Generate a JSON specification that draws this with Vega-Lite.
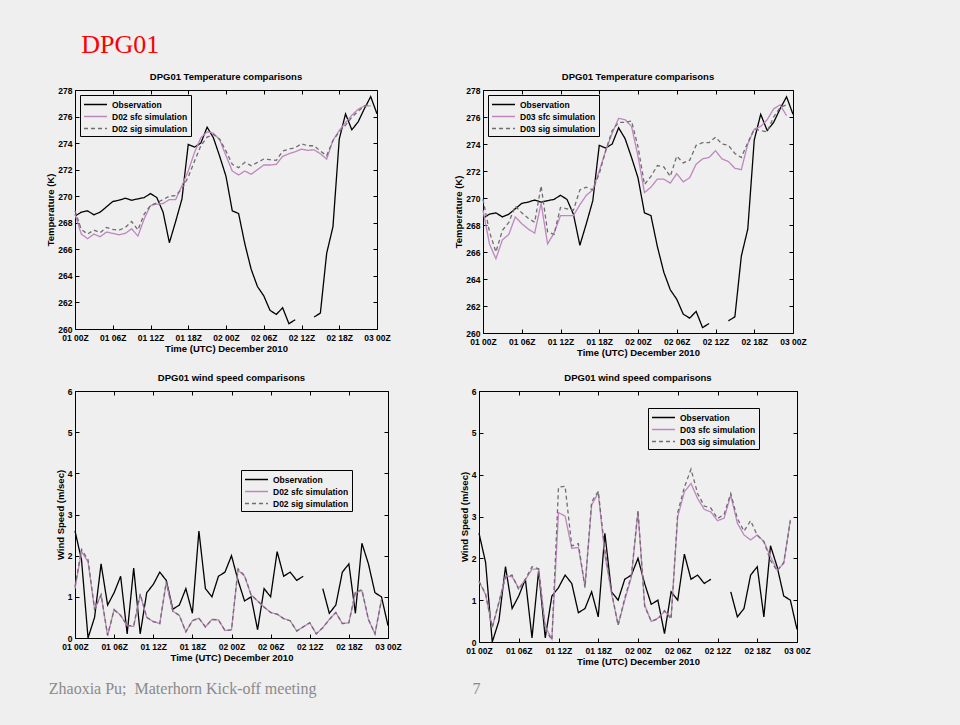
{
  "$schema": "https://vega.github.io/schema/vega-lite/v6.json",
  "padding": {"left": 45, "top": 32, "right": 155, "bottom": 30},
  "title": {"text": "DPG01", "anchor": "start", "font": "Liberation Serif", "fontSize": 26, "fontWeight": "normal", "color": "#ff0000", "dx": 36, "offset": 13},
  "datasets": {
    "temp": [
      {"h":0,"obs":268.5,"s2":268.65,"g2":268.9,"s3":269.1,"g3":269.9},
      {"h":1,"obs":268.8,"s2":267.15,"g2":267.5,"s3":266.6,"g3":267.5},
      {"h":2,"obs":268.9,"s2":266.8,"g2":267.15,"s3":265.5,"g3":266.0},
      {"h":3,"obs":268.6,"s2":267.15,"g2":267.45,"s3":266.9,"g3":267.6},
      {"h":4,"obs":268.8,"s2":266.95,"g2":267.25,"s3":267.3,"g3":268.2},
      {"h":5,"obs":269.2,"s2":267.3,"g2":267.65,"s3":268.6,"g3":269.4},
      {"h":6,"obs":269.6,"s2":267.2,"g2":267.5,"s3":268.1,"g3":268.9},
      {"h":7,"obs":269.7,"s2":267.1,"g2":267.45,"s3":267.7,"g3":268.5},
      {"h":8,"obs":269.85,"s2":267.2,"g2":267.65,"s3":267.4,"g3":268.2},
      {"h":9,"obs":269.7,"s2":267.55,"g2":268.1,"s3":269.6,"g3":270.9},
      {"h":10,"obs":269.8,"s2":267.0,"g2":267.45,"s3":266.6,"g3":267.5},
      {"h":11,"obs":269.9,"s2":268.3,"g2":268.65,"s3":267.4,"g3":267.3},
      {"h":12,"obs":270.2,"s2":269.3,"g2":269.3,"s3":268.7,"g3":269.3},
      {"h":13,"obs":269.9,"s2":269.4,"g2":269.5,"s3":268.7,"g3":269.2},
      {"h":14,"obs":268.8,"s2":269.45,"g2":269.75,"s3":268.7,"g3":269.1},
      {"h":15,"obs":266.5,"s2":269.75,"g2":270.0,"s3":269.5,"g3":270.6},
      {"h":16,"obs":268.1,"s2":269.75,"g2":270.05,"s3":270.2,"g3":270.8},
      {"h":17,"obs":269.8,"s2":270.8,"g2":270.55,"s3":270.6,"g3":270.6},
      {"h":18,"obs":273.9,"s2":271.9,"g2":271.45,"s3":272.0,"g3":271.8},
      {"h":19,"obs":273.7,"s2":273.3,"g2":272.65,"s3":273.5,"g3":273.5},
      {"h":20,"obs":274.0,"s2":274.4,"g2":273.8,"s3":274.8,"g3":275.0},
      {"h":21,"obs":275.2,"s2":274.85,"g2":274.45,"s3":275.9,"g3":275.6},
      {"h":22,"obs":274.4,"s2":274.75,"g2":274.65,"s3":275.8,"g3":275.6},
      {"h":23,"obs":273.0,"s2":274.25,"g2":274.3,"s3":275.3,"g3":275.7},
      {"h":24,"obs":271.5,"s2":273.05,"g2":273.4,"s3":273.1,"g3":273.8},
      {"h":25,"obs":268.9,"s2":271.9,"g2":272.4,"s3":270.4,"g3":271.0},
      {"h":26,"obs":268.7,"s2":271.6,"g2":272.15,"s3":270.8,"g3":271.6},
      {"h":27,"obs":266.4,"s2":271.9,"g2":272.55,"s3":271.4,"g3":272.4},
      {"h":28,"obs":264.5,"s2":271.65,"g2":272.3,"s3":271.4,"g3":272.3},
      {"h":29,"obs":263.2,"s2":272.0,"g2":272.55,"s3":271.1,"g3":271.6},
      {"h":30,"obs":262.5,"s2":272.35,"g2":272.8,"s3":271.8,"g3":273.1},
      {"h":31,"obs":261.4,"s2":272.35,"g2":272.75,"s3":271.2,"g3":272.6},
      {"h":32,"obs":261.1,"s2":272.4,"g2":272.7,"s3":271.5,"g3":272.8},
      {"h":33,"obs":261.6,"s2":273.0,"g2":273.4,"s3":272.5,"g3":273.9},
      {"h":34,"obs":260.4,"s2":273.2,"g2":273.55,"s3":272.9,"g3":274.1},
      {"h":35,"obs":260.7,"s2":273.35,"g2":273.65,"s3":273.0,"g3":274.1},
      {"h":36,"obs":null,"s2":273.55,"g2":273.95,"s3":273.5,"g3":274.5},
      {"h":37,"obs":null,"s2":273.45,"g2":273.8,"s3":272.9,"g3":274.0},
      {"h":38,"obs":260.9,"s2":273.5,"g2":273.8,"s3":272.7,"g3":273.9},
      {"h":39,"obs":261.2,"s2":273.2,"g2":273.4,"s3":272.2,"g3":273.3},
      {"h":40,"obs":265.7,"s2":272.8,"g2":273.05,"s3":272.1,"g3":273.0},
      {"h":41,"obs":267.7,"s2":274.2,"g2":274.2,"s3":274.0,"g3":274.1},
      {"h":42,"obs":274.3,"s2":274.95,"g2":274.85,"s3":275.1,"g3":275.1},
      {"h":43,"obs":276.2,"s2":275.55,"g2":275.35,"s3":275.3,"g3":275.0},
      {"h":44,"obs":275.0,"s2":276.1,"g2":275.95,"s3":275.8,"g3":274.9},
      {"h":45,"obs":275.6,"s2":276.55,"g2":276.4,"s3":276.6,"g3":276.0},
      {"h":46,"obs":276.6,"s2":276.8,"g2":276.8,"s3":276.9,"g3":276.7},
      {"h":47,"obs":277.5,"s2":276.8,"g2":276.95,"s3":276.1,"g3":276.9},
      {"h":48,"obs":276.2,"s2":null,"g2":null,"s3":null,"g3":null}
    ],
    "wind": [
      {"h":0,"obs":2.6,"s2":1.2,"g2":1.25,"s3":1.45,"g3":1.45},
      {"h":1,"obs":1.9,"s2":2.1,"g2":2.15,"s3":1.13,"g3":1.15},
      {"h":2,"obs":0.0,"s2":1.85,"g2":1.9,"s3":0.35,"g3":0.35},
      {"h":3,"obs":0.5,"s2":0.7,"g2":0.7,"s3":0.93,"g3":0.95},
      {"h":4,"obs":1.8,"s2":1.05,"g2":1.05,"s3":1.58,"g3":1.55},
      {"h":5,"obs":0.8,"s2":0.05,"g2":0.07,"s3":1.56,"g3":1.6},
      {"h":6,"obs":1.1,"s2":0.7,"g2":0.68,"s3":1.29,"g3":1.25},
      {"h":7,"obs":1.5,"s2":0.55,"g2":0.55,"s3":1.49,"g3":1.5},
      {"h":8,"obs":0.1,"s2":0.3,"g2":0.3,"s3":1.74,"g3":1.8},
      {"h":9,"obs":1.7,"s2":0.28,"g2":0.3,"s3":1.74,"g3":1.75},
      {"h":10,"obs":0.1,"s2":1.05,"g2":1.07,"s3":0.37,"g3":0.3},
      {"h":11,"obs":1.1,"s2":0.5,"g2":0.5,"s3":0.07,"g3":0.05},
      {"h":12,"obs":1.3,"s2":0.4,"g2":0.4,"s3":3.09,"g3":3.7},
      {"h":13,"obs":1.6,"s2":0.35,"g2":0.35,"s3":3.01,"g3":3.72},
      {"h":14,"obs":1.4,"s2":1.35,"g2":1.37,"s3":2.24,"g3":2.3},
      {"h":15,"obs":0.7,"s2":0.65,"g2":0.65,"s3":2.26,"g3":2.35},
      {"h":16,"obs":0.8,"s2":0.55,"g2":0.55,"s3":1.33,"g3":1.3},
      {"h":17,"obs":1.2,"s2":0.15,"g2":0.15,"s3":3.27,"g3":3.35},
      {"h":18,"obs":0.6,"s2":0.42,"g2":0.42,"s3":3.57,"g3":3.6},
      {"h":19,"obs":2.6,"s2":0.48,"g2":0.48,"s3":2.08,"g3":2.2},
      {"h":20,"obs":1.2,"s2":0.27,"g2":0.27,"s3":1.17,"g3":1.2},
      {"h":21,"obs":1.0,"s2":0.45,"g2":0.45,"s3":0.41,"g3":0.4},
      {"h":22,"obs":1.5,"s2":0.44,"g2":0.44,"s3":1.0,"g3":1.05},
      {"h":23,"obs":1.6,"s2":0.18,"g2":0.18,"s3":1.55,"g3":1.6},
      {"h":24,"obs":2.0,"s2":0.2,"g2":0.2,"s3":3.11,"g3":3.15},
      {"h":25,"obs":1.4,"s2":1.65,"g2":1.68,"s3":0.89,"g3":0.85},
      {"h":26,"obs":0.9,"s2":1.5,"g2":1.52,"s3":0.49,"g3":0.5},
      {"h":27,"obs":1.0,"s2":1.05,"g2":1.05,"s3":0.57,"g3":0.55},
      {"h":28,"obs":0.2,"s2":0.9,"g2":0.9,"s3":0.73,"g3":0.75},
      {"h":29,"obs":1.2,"s2":0.75,"g2":0.75,"s3":0.6,"g3":0.55},
      {"h":30,"obs":1.0,"s2":0.62,"g2":0.62,"s3":3.0,"g3":3.1},
      {"h":31,"obs":2.1,"s2":0.58,"g2":0.58,"s3":3.59,"g3":3.7},
      {"h":32,"obs":1.5,"s2":0.47,"g2":0.47,"s3":3.79,"g3":4.13},
      {"h":33,"obs":1.6,"s2":0.42,"g2":0.42,"s3":3.43,"g3":3.55},
      {"h":34,"obs":1.4,"s2":0.17,"g2":0.17,"s3":3.17,"g3":3.25},
      {"h":35,"obs":1.5,"s2":0.27,"g2":0.27,"s3":3.11,"g3":3.2},
      {"h":36,"obs":null,"s2":0.37,"g2":0.37,"s3":2.9,"g3":2.95},
      {"h":37,"obs":null,"s2":0.1,"g2":0.1,"s3":2.96,"g3":3.05},
      {"h":38,"obs":1.2,"s2":0.25,"g2":0.25,"s3":3.51,"g3":3.55},
      {"h":39,"obs":0.6,"s2":0.45,"g2":0.45,"s3":2.84,"g3":2.95},
      {"h":40,"obs":0.8,"s2":0.62,"g2":0.62,"s3":2.56,"g3":2.65},
      {"h":41,"obs":1.6,"s2":0.35,"g2":0.35,"s3":2.44,"g3":2.9},
      {"h":42,"obs":1.8,"s2":0.37,"g2":0.37,"s3":2.56,"g3":2.55},
      {"h":43,"obs":0.6,"s2":1.1,"g2":1.12,"s3":2.4,"g3":2.4},
      {"h":44,"obs":2.3,"s2":1.15,"g2":1.17,"s3":2.04,"g3":1.95},
      {"h":45,"obs":1.8,"s2":0.45,"g2":0.45,"s3":1.72,"g3":1.7},
      {"h":46,"obs":1.1,"s2":0.1,"g2":0.1,"s3":1.88,"g3":1.9},
      {"h":47,"obs":1.0,"s2":0.93,"g2":0.93,"s3":2.92,"g3":2.9},
      {"h":48,"obs":0.3,"s2":null,"g2":null,"s3":null,"g3":null}
    ]
  },
  "vconcat": [
    {
      "hconcat": [
        {
          "width": 302, "height": 239,
          "title": "DPG01 Temperature comparisons",
          "data": {"name": "temp"},
          "transform": [{"fold": ["obs", "s2", "g2"], "as": ["k", "v"]}],
          "layer": [
            {
              "mark": {"type": "line", "strokeWidth": 1.3, "invalid": "break-paths-show-domains"},
              "encoding": {
                "x": {"field": "h", "type": "quantitative", "scale": {"domain": [0, 48], "nice": false}, "axis": {"values": [0,6,12,18,24,30,36,42,48], "labelExpr": "(datum.value < 24 ? '01' : datum.value < 48 ? '02' : '03') + ' ' + (datum.value % 24 < 10 ? '0' : '') + (datum.value % 24) + 'Z'", "title": "Time (UTC) December 2010"}},
                "y": {"field": "v", "type": "quantitative", "scale": {"domain": [260, 278], "nice": false, "zero": false}, "axis": {"values": [260,262,264,266,268,270,272,274,276,278], "title": "Temperature (K)"}},
                "color": {"field": "k", "type": "nominal", "scale": {"domain": ["obs", "s2", "g2"], "range": ["#000000", "#bf86c0", "#6e6e6e"]}, "legend": {"title": null, "orient": "top-left", "offset": 5, "labelExpr": "datum.label == 'obs' ? 'Observation' : datum.label == 's2' ? 'D02 sfc simulation' : 'D02 sig simulation'"}},
                "strokeDash": {"field": "k", "type": "nominal", "scale": {"domain": ["obs", "s2", "g2"], "range": [[1, 0], [1, 0], [4, 3]]}, "legend": {"title": null, "orient": "top-left", "offset": 5, "labelExpr": "datum.label == 'obs' ? 'Observation' : datum.label == 's2' ? 'D02 sfc simulation' : 'D02 sig simulation'"}}
              }
            },
            {
              "mark": {"type": "point", "opacity": 0},
              "encoding": {
                "x": {"field": "h", "type": "quantitative", "scale": {"domain": [0, 48], "nice": false}, "axis": {"orient": "top", "values": [0,6,12,18,24,30,36,42,48], "labels": false, "title": null}},
                "y": {"field": "v", "type": "quantitative", "scale": {"domain": [260, 278], "nice": false, "zero": false}, "axis": {"orient": "right", "values": [260,262,264,266,268,270,272,274,276,278], "labels": false, "title": null}}
              }
            }
          ],
          "resolve": {"axis": {"x": "independent", "y": "independent"}}
        },
        {
          "width": 310, "height": 243,
          "title": "DPG01 Temperature comparisons",
          "data": {"name": "temp"},
          "transform": [{"fold": ["obs", "s3", "g3"], "as": ["k", "v"]}],
          "layer": [
            {
              "mark": {"type": "line", "strokeWidth": 1.3, "invalid": "break-paths-show-domains"},
              "encoding": {
                "x": {"field": "h", "type": "quantitative", "scale": {"domain": [0, 48], "nice": false}, "axis": {"values": [0,6,12,18,24,30,36,42,48], "labelExpr": "(datum.value < 24 ? '01' : datum.value < 48 ? '02' : '03') + ' ' + (datum.value % 24 < 10 ? '0' : '') + (datum.value % 24) + 'Z'", "title": "Time (UTC) December 2010"}},
                "y": {"field": "v", "type": "quantitative", "scale": {"domain": [260, 278], "nice": false, "zero": false}, "axis": {"values": [260,262,264,266,268,270,272,274,276,278], "title": "Temperature (K)"}},
                "color": {"field": "k", "type": "nominal", "scale": {"domain": ["obs", "s3", "g3"], "range": ["#000000", "#bf86c0", "#6e6e6e"]}, "legend": {"title": null, "orient": "top-left", "offset": 5, "labelExpr": "datum.label == 'obs' ? 'Observation' : datum.label == 's3' ? 'D03 sfc simulation' : 'D03 sig simulation'"}},
                "strokeDash": {"field": "k", "type": "nominal", "scale": {"domain": ["obs", "s3", "g3"], "range": [[1, 0], [1, 0], [4, 3]]}, "legend": {"title": null, "orient": "top-left", "offset": 5, "labelExpr": "datum.label == 'obs' ? 'Observation' : datum.label == 's3' ? 'D03 sfc simulation' : 'D03 sig simulation'"}}
              }
            },
            {
              "mark": {"type": "point", "opacity": 0},
              "encoding": {
                "x": {"field": "h", "type": "quantitative", "scale": {"domain": [0, 48], "nice": false}, "axis": {"orient": "top", "values": [0,6,12,18,24,30,36,42,48], "labels": false, "title": null}},
                "y": {"field": "v", "type": "quantitative", "scale": {"domain": [260, 278], "nice": false, "zero": false}, "axis": {"orient": "right", "values": [260,262,264,266,268,270,272,274,276,278], "labels": false, "title": null}}
              }
            }
          ],
          "resolve": {"axis": {"x": "independent", "y": "independent"}}
        }
      ],
      "spacing": 62,
      "resolve": {"scale": {"color": "independent", "strokeDash": "independent"}, "legend": {"color": "independent", "strokeDash": "independent"}}
    },
    {
      "title": {"text": "Zhaoxia Pu;\u00a0\u00a0Materhorn Kick-off meeting\u00a0\u00a0\u00a0\u00a0\u00a0\u00a0\u00a0\u00a0\u00a0\u00a0\u00a0\u00a0\u00a0\u00a0\u00a0\u00a0\u00a0\u00a0\u00a0\u00a0\u00a0\u00a0\u00a0\u00a0\u00a0\u00a0\u00a0\u00a0\u00a0\u00a0\u00a0\u00a0\u00a0\u00a0\u00a0\u00a0\u00a0\u00a0\u00a07", "orient": "bottom", "anchor": "start", "font": "Liberation Serif", "fontSize": 16, "fontWeight": "normal", "color": "#8a8a8a", "dx": -6, "offset": 14},
      "hconcat": [
        {
          "width": 313, "height": 247,
          "title": "DPG01 wind speed comparisons",
          "data": {"name": "wind"},
          "transform": [{"fold": ["obs", "s2", "g2"], "as": ["k", "v"]}],
          "layer": [
            {
              "mark": {"type": "line", "strokeWidth": 1.3, "invalid": "break-paths-show-domains"},
              "encoding": {
                "x": {"field": "h", "type": "quantitative", "scale": {"domain": [0, 48], "nice": false}, "axis": {"values": [0,6,12,18,24,30,36,42,48], "labelExpr": "(datum.value < 24 ? '01' : datum.value < 48 ? '02' : '03') + ' ' + (datum.value % 24 < 10 ? '0' : '') + (datum.value % 24) + 'Z'", "title": "Time (UTC) December 2010"}},
                "y": {"field": "v", "type": "quantitative", "scale": {"domain": [0, 6], "nice": false}, "axis": {"values": [0,1,2,3,4,5,6], "title": "Wind Speed (m/sec)"}},
                "color": {"field": "k", "type": "nominal", "scale": {"domain": ["obs", "s2", "g2"], "range": ["#000000", "#bf86c0", "#6e6e6e"]}, "legend": {"title": null, "orient": "none", "legendX": 166, "legendY": 79, "labelExpr": "datum.label == 'obs' ? 'Observation' : datum.label == 's2' ? 'D02 sfc simulation' : 'D02 sig simulation'"}},
                "strokeDash": {"field": "k", "type": "nominal", "scale": {"domain": ["obs", "s2", "g2"], "range": [[1, 0], [1, 0], [4, 3]]}, "legend": {"title": null, "orient": "none", "legendX": 166, "legendY": 79, "labelExpr": "datum.label == 'obs' ? 'Observation' : datum.label == 's2' ? 'D02 sfc simulation' : 'D02 sig simulation'"}}
              }
            },
            {
              "mark": {"type": "point", "opacity": 0},
              "encoding": {
                "x": {"field": "h", "type": "quantitative", "scale": {"domain": [0, 48], "nice": false}, "axis": {"orient": "top", "values": [0,6,12,18,24,30,36,42,48], "labels": false, "title": null}},
                "y": {"field": "v", "type": "quantitative", "scale": {"domain": [0, 6], "nice": false}, "axis": {"orient": "right", "values": [0,1,2,3,4,5,6], "labels": false, "title": null}}
              }
            }
          ],
          "resolve": {"axis": {"x": "independent", "y": "independent"}}
        },
        {
          "width": 318, "height": 251,
          "title": "DPG01 wind speed comparisons",
          "data": {"name": "wind"},
          "transform": [{"fold": ["obs", "s3", "g3"], "as": ["k", "v"]}],
          "layer": [
            {
              "mark": {"type": "line", "strokeWidth": 1.3, "invalid": "break-paths-show-domains"},
              "encoding": {
                "x": {"field": "h", "type": "quantitative", "scale": {"domain": [0, 48], "nice": false}, "axis": {"values": [0,6,12,18,24,30,36,42,48], "labelExpr": "(datum.value < 24 ? '01' : datum.value < 48 ? '02' : '03') + ' ' + (datum.value % 24 < 10 ? '0' : '') + (datum.value % 24) + 'Z'", "title": "Time (UTC) December 2010"}},
                "y": {"field": "v", "type": "quantitative", "scale": {"domain": [0, 6], "nice": false}, "axis": {"values": [0,1,2,3,4,5,6], "title": "Wind Speed (m/sec)"}},
                "color": {"field": "k", "type": "nominal", "scale": {"domain": ["obs", "s3", "g3"], "range": ["#000000", "#bf86c0", "#6e6e6e"]}, "legend": {"title": null, "orient": "none", "legendX": 169, "legendY": 17, "labelExpr": "datum.label == 'obs' ? 'Observation' : datum.label == 's3' ? 'D03 sfc simulation' : 'D03 sig simulation'"}},
                "strokeDash": {"field": "k", "type": "nominal", "scale": {"domain": ["obs", "s3", "g3"], "range": [[1, 0], [1, 0], [4, 3]]}, "legend": {"title": null, "orient": "none", "legendX": 169, "legendY": 17, "labelExpr": "datum.label == 'obs' ? 'Observation' : datum.label == 's3' ? 'D03 sfc simulation' : 'D03 sig simulation'"}}
              }
            },
            {
              "mark": {"type": "point", "opacity": 0},
              "encoding": {
                "x": {"field": "h", "type": "quantitative", "scale": {"domain": [0, 48], "nice": false}, "axis": {"orient": "top", "values": [0,6,12,18,24,30,36,42,48], "labels": false, "title": null}},
                "y": {"field": "v", "type": "quantitative", "scale": {"domain": [0, 6], "nice": false}, "axis": {"orient": "right", "values": [0,1,2,3,4,5,6], "labels": false, "title": null}}
              }
            }
          ],
          "resolve": {"axis": {"x": "independent", "y": "independent"}}
        }
      ],
      "spacing": 56,
      "resolve": {"scale": {"color": "independent", "strokeDash": "independent"}, "legend": {"color": "independent", "strokeDash": "independent"}}
    }
  ],
  "spacing": 14,
  "resolve": {"scale": {"color": "independent", "strokeDash": "independent"}, "legend": {"color": "independent", "strokeDash": "independent"}},
  "config": {
    "background": "#efefef",
    "font": "Liberation Sans",
    "view": {"stroke": "#000000", "strokeWidth": 1},
    "axis": {"grid": false, "domain": false, "labelFont": "Liberation Sans", "labelFontWeight": "bold", "labelFontSize": 8.5, "labelColor": "#000000", "titleFont": "Liberation Sans", "titleFontWeight": "bold", "titleFontSize": 9.5, "titleColor": "#000000", "tickColor": "#000000", "tickSize": -4, "titlePadding": 2, "labelFlush": false, "labelOverlap": false},
    "axisX": {"labelPadding": 8},
    "axisY": {"labelPadding": 7},
    "title": {"font": "Liberation Sans", "fontSize": 9.5, "fontWeight": "bold", "color": "#000000", "offset": 5},
    "legend": {"labelFont": "Liberation Sans", "labelFontWeight": "bold", "labelFontSize": 8.5, "labelColor": "#000000", "strokeColor": "#000000", "padding": 3, "symbolType": "M-2,0H2", "symbolStrokeWidth": 1.5, "symbolSize": 132, "symbolOffset": 6, "rowPadding": 1, "labelOffset": 10}
  }
}
